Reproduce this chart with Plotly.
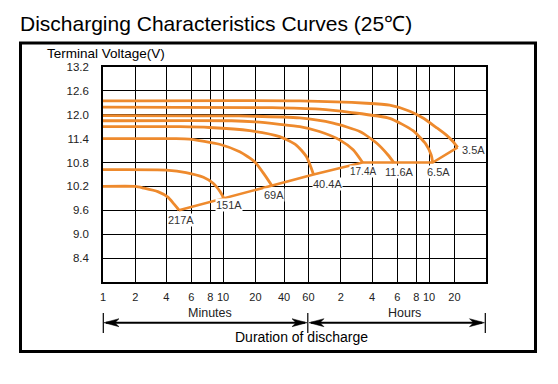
import numpy as np
import plotly.graph_objects as go

# ---------------- data (time in minutes, voltage in V) ----------------
CURRENTS = ["217A", "151A", "69A", "40.4A", "17.4A", "11.6A", "6.5A", "3.5A"]

T_217 = [1, 2.0, 2.4, 3.3, 4.1, 4.5, 4.8, 4.9]
V_217 = [10.2, 10.2, 10.16, 10.07, 9.93, 9.77, 9.65, 9.6]

T_151 = [1, 4.0, 5.5, 7.2, 8.4, 9.5, 10.2]
V_151 = [10.62, 10.61, 10.55, 10.43, 10.28, 10.07, 9.9]

T_69 = [1, 4.5, 5.8, 9.4, 14.3, 19.7, 25, 30]
V_69 = [11.4, 11.4, 11.39, 11.26, 11.07, 10.82, 10.49, 10.21]

T_40 = [1, 5, 7.9, 17.7, 36, 49, 58, 67]
V_40 = [11.70, 11.70, 11.68, 11.6, 11.45, 11.24, 10.95, 10.5]

T_17 = [1, 12, 20, 36, 52, 76, 117, 158, 195]
V_17 = [11.85, 11.85, 11.82, 11.76, 11.70, 11.58, 11.37, 11.12, 10.8]

T_11 = [1, 14, 52, 102, 183, 258, 310, 340]
V_11 = [11.98, 11.97, 11.92, 11.79, 11.58, 11.29, 10.99, 10.8]

T_6 = [1, 30, 76, 147, 318, 456, 566, 637, 664]
V_6 = [12.19, 12.18, 12.14, 12.06, 11.91, 11.60, 11.27, 10.99, 10.8]

T_3 = [1, 52, 212, 318, 434, 540, 734, 965, 1155, 1290]
V_3 = [12.35, 12.35, 12.29, 12.24, 12.09, 11.92, 11.68, 11.49, 11.33, 11.18]

CURVES_T = [T_217, T_151, T_69, T_40, T_17, T_11, T_6, T_3]
CURVES_V = [V_217, V_151, V_69, V_40, V_17, V_11, V_6, V_3]

# x tick values (minutes) and labels
X_TICK_MIN = [1, 2, 4, 6, 8, 10, 20, 40, 60, 120, 240, 360, 480, 600, 1200]
X_TICK_TEXT = ["1", "2", "4", "6", "8", "10", "20", "40", "60",
               "2", "4", "6", "8", "10", "20"]
Y_TICKS = [8.4, 9.0, 9.6, 10.2, 10.8, 11.4, 12.0, 12.6, 13.2]

# ---------------- layout / axis geometry (hand drawn log grid) ----------------
W, H = 558, 384
ML, MR, MT, MB = 103, 72, 67, 102
PW, PH = W - ML - MR, H - MT - MB
GRID_POS = [0, 32.4, 63.4, 88.4, 107.4, 120, 152.4, 181, 205.4, 237.7,
            269, 294.4, 313.4, 326, 351.4, PW]
GRID_T = X_TICK_MIN + [2400]


def warp(t):
    return np.interp(np.log(np.asarray(t, float)), np.log(GRID_T), GRID_POS)


def px(x):
    return (x - ML) / PW


def py(y):
    return (H - MB - y) / PH


ORANGE = "#EE8A2D"
FONT = "Liberation Sans, Arial, sans-serif"

fig = go.Figure()
for name, t, v in zip(CURRENTS, CURVES_T, CURVES_V):
    fig.add_trace(go.Scatter(x=warp(t), y=v, mode="lines", name=name,
                             line=dict(color=ORANGE, width=2.8, shape="spline",
                                       smoothing=0.6),
                             hoverinfo="skip", showlegend=False))

# end-of-discharge line through the end points of the curves
end_t = [t[-1] for t in CURVES_T]
end_v = [v[-1] for v in CURVES_V]
fig.add_trace(go.Scatter(x=warp(end_t), y=end_v, mode="lines",
                         line=dict(color=ORANGE, width=2.5),
                         hoverinfo="skip", showlegend=False))

# current labels
LABEL_SHIFT = {"217A": (2, -10), "151A": (5, -7), "69A": (2, -9),
               "40.4A": (14, -9), "17.4A": (0, -9), "11.6A": (6, -9),
               "6.5A": (6, -9), "3.5A": (16, -3)}
for name, t, v in zip(CURRENTS, end_t, end_v):
    dx, dy = LABEL_SHIFT[name]
    fig.add_annotation(x=float(warp(t)), y=v, xref="x", yref="y", text=name,
                       showarrow=False, xshift=dx, yshift=dy,
                       bgcolor="white", borderpad=0,
                       font=dict(family=FONT, size=10 if name == "17.4A" else 11,
                                 color="#333333"))

shapes = []
# outer frame
shapes.append(dict(type="rect", xref="paper", yref="paper",
                   x0=px(20.5), x1=px(535.5), y0=py(351.5), y1=py(43),
                   line=dict(color="black", width=3), layer="below"))
# duration arrows
AY = 322.7
shapes.append(dict(type="line", xref="paper", yref="paper", x0=px(106), x1=px(305),
                   y0=py(AY), y1=py(AY), line=dict(color="black", width=2)))
shapes.append(dict(type="line", xref="paper", yref="paper", x0=px(311), x1=px(482),
                   y0=py(AY), y1=py(AY), line=dict(color="black", width=2)))
for xt in (103.3, 307.8, 485.3):
    shapes.append(dict(type="line", xref="paper", yref="paper", x0=px(xt), x1=px(xt),
                       y0=py(313), y1=py(333), line=dict(color="black", width=1.2)))


def head(tip, direction):
    L, hw, notch = 15, 4, 11
    pts = [(tip, AY), (tip + direction * L, AY - hw), (tip + direction * notch, AY),
           (tip + direction * L, AY + hw)]
    return "M " + " L ".join(f"{px(a):.5f},{py(b):.5f}" for a, b in pts) + " Z"


for tip, d in ((104, 1), (307, -1), (309, 1), (484.5, -1)):
    shapes.append(dict(type="path", xref="paper", yref="paper", path=head(tip, d),
                       fillcolor="black", line=dict(color="black", width=0.5)))

texts = [
    ("Discharging Characteristics Curves (25℃)", 18, 23.5, 21, "left", "black"),
    ("Terminal Voltage(V)", 45, 53.5, 13.5, "left", "black"),
    ("Minutes", 209.7, 313.3, 12.5, "center", "#222222"),
    ("Hours", 404.5, 313.3, 12.5, "center", "#222222"),
    ("Duration of discharge", 301, 336.7, 14, "center", "black"),
]
for txt, x, y, size, anchor, col in texts:
    fig.add_annotation(x=px(x), y=py(y), xref="paper", yref="paper", text=txt,
                       showarrow=False, xanchor=anchor, yanchor="middle",
                       font=dict(family=FONT, size=size, color=col))

fig.update_layout(
    width=W, height=H, margin=dict(l=ML, r=MR, t=MT, b=MB, pad=0),
    paper_bgcolor="white", plot_bgcolor="white", shapes=shapes,
    font=dict(family=FONT, color="#222222"),
    xaxis=dict(range=[0, PW], tickvals=warp(X_TICK_MIN), ticktext=X_TICK_TEXT,
               showgrid=True, gridcolor="black", gridwidth=1.2, zeroline=False,
               showline=True, mirror=True, linecolor="black", linewidth=1.5,
               ticks="", ticklabelstandoff=4, tickfont=dict(size=11, color="#222222"),
               fixedrange=True),
    yaxis=dict(range=[7.8, 13.2], tickvals=Y_TICKS,
               ticktext=[f"{v:.1f}" for v in Y_TICKS],
               showgrid=True, gridcolor="black", gridwidth=1.2, zeroline=False,
               showline=True, mirror=True, linecolor="black", linewidth=1.5,
               ticks="", ticklabelstandoff=10, tickfont=dict(size=11.5, color="#222222"),
               fixedrange=True),
)

fig.write_html("out.html", config={"displayModeBar": False},
               post_script="document.body.style.margin='0px';"
                           "document.body.style.overflow='hidden';")
